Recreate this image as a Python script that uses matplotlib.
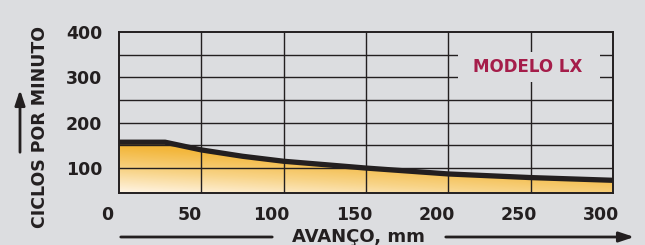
import numpy as np
import matplotlib.pyplot as plt
import matplotlib.transforms as mtransforms
from matplotlib.colors import LinearSegmentedColormap
from matplotlib.patches import Rectangle

# data
avance_mm = [0, 28, 50, 75, 100, 150, 200, 250, 300]
ciclos = [157, 157, 140, 126, 115, 100, 87, 79, 73]
x_ticks = [0, 50, 100, 150, 200, 250, 300]
y_ticks = [100, 200, 300, 400]
y_grid = [100, 150, 200, 250, 300, 350]

BG = '#dcdde0'
INK = '#231f20'
FONT = 'DejaVu Sans'

fig = plt.figure(figsize=(6.45, 2.45), dpi=100, facecolor=BG)
ax = fig.add_axes([119 / 645, 52 / 245, 494 / 645, 161 / 245])
ax.set_facecolor(BG)
ax.set_xlim(0, 300)
ax.set_ylim(45, 400)

# gradient fill under the curve
cmap = LinearSegmentedColormap.from_list('naranja', ['#fff5e6', '#f8d488', '#f3b73c'])
gx, gy = np.meshgrid(np.linspace(0, 300, 200), np.linspace(45, 160, 120))
t = np.clip((gy - 45) / 100 * 1.0 + gx / 300 * 0.6, 0, 1)
img = ax.imshow(t, extent=(0, 300, 45, 160), origin='lower', cmap=cmap,
                aspect='auto', zorder=1, vmin=0, vmax=1)
poly = ax.fill_between(avance_mm, ciclos, 45, color='none', zorder=1)
img.set_clip_path(poly.get_paths()[0], transform=ax.transData)

# grid lines
for yv in y_grid:
    ax.axhline(yv, color=INK, lw=1.0, zorder=2)
for xv in x_ticks[1:-1]:
    ax.axvline(xv, color=INK, lw=1.0, zorder=2)

# model label box hides the grid behind it
ax.add_patch(Rectangle((206, 290), 86, 66, transform=ax.transData,
                       facecolor=BG, edgecolor='none', zorder=3))
ax.text(248, 322, 'MODELO LX', color='#a51d4a', fontsize=12, fontweight='bold',
        family=FONT, ha='center', va='center', zorder=4)

ax.plot(avance_mm, ciclos, color=INK, lw=3.8, solid_capstyle='butt', zorder=5)

for s in ax.spines.values():
    s.set_color(INK)
    s.set_linewidth(1.4)
    s.set_zorder(6)

ax.set_xticks(x_ticks)
ax.set_yticks(y_ticks)
ax.tick_params(length=0, labelsize=12.5, colors=INK)
ax.tick_params(axis='x', pad=9)
ax.tick_params(axis='y', pad=12)
for lab in ax.get_xticklabels() + ax.get_yticklabels():
    lab.set_fontweight('bold')
    lab.set_family(FONT)
shift = mtransforms.ScaledTranslation(-12 / 100, 0, fig.dpi_scale_trans)
for lab in ax.get_xticklabels():
    lab.set_transform(lab.get_transform() + shift)

# axis titles with arrows
fig.text(40 / 645, 118 / 245, 'CICLOS POR MINUTO', rotation=90, ha='center', va='center',
         fontsize=12.5, fontweight='bold', family=FONT, color=INK)
fig.text(358 / 645, 8 / 245, 'AVANÇO, mm', ha='center', va='center',
         fontsize=13, fontweight='bold', family=FONT, color=INK)

ax.annotate('', xy=(20, 158), xytext=(20, 90), xycoords='figure pixels',
            textcoords='figure pixels',
            arrowprops=dict(arrowstyle='-|>,head_length=0.9,head_width=0.3', color=INK, lw=2))
ax.annotate('', xy=(275, 8), xytext=(118, 8), xycoords='figure pixels',
            textcoords='figure pixels', arrowprops=dict(arrowstyle='-', color=INK, lw=2))
ax.annotate('', xy=(637, 8), xytext=(443, 8), xycoords='figure pixels',
            textcoords='figure pixels',
            arrowprops=dict(arrowstyle='-|>,head_length=0.9,head_width=0.3', color=INK, lw=2))

fig.savefig('out.png', dpi=100, facecolor=BG)
